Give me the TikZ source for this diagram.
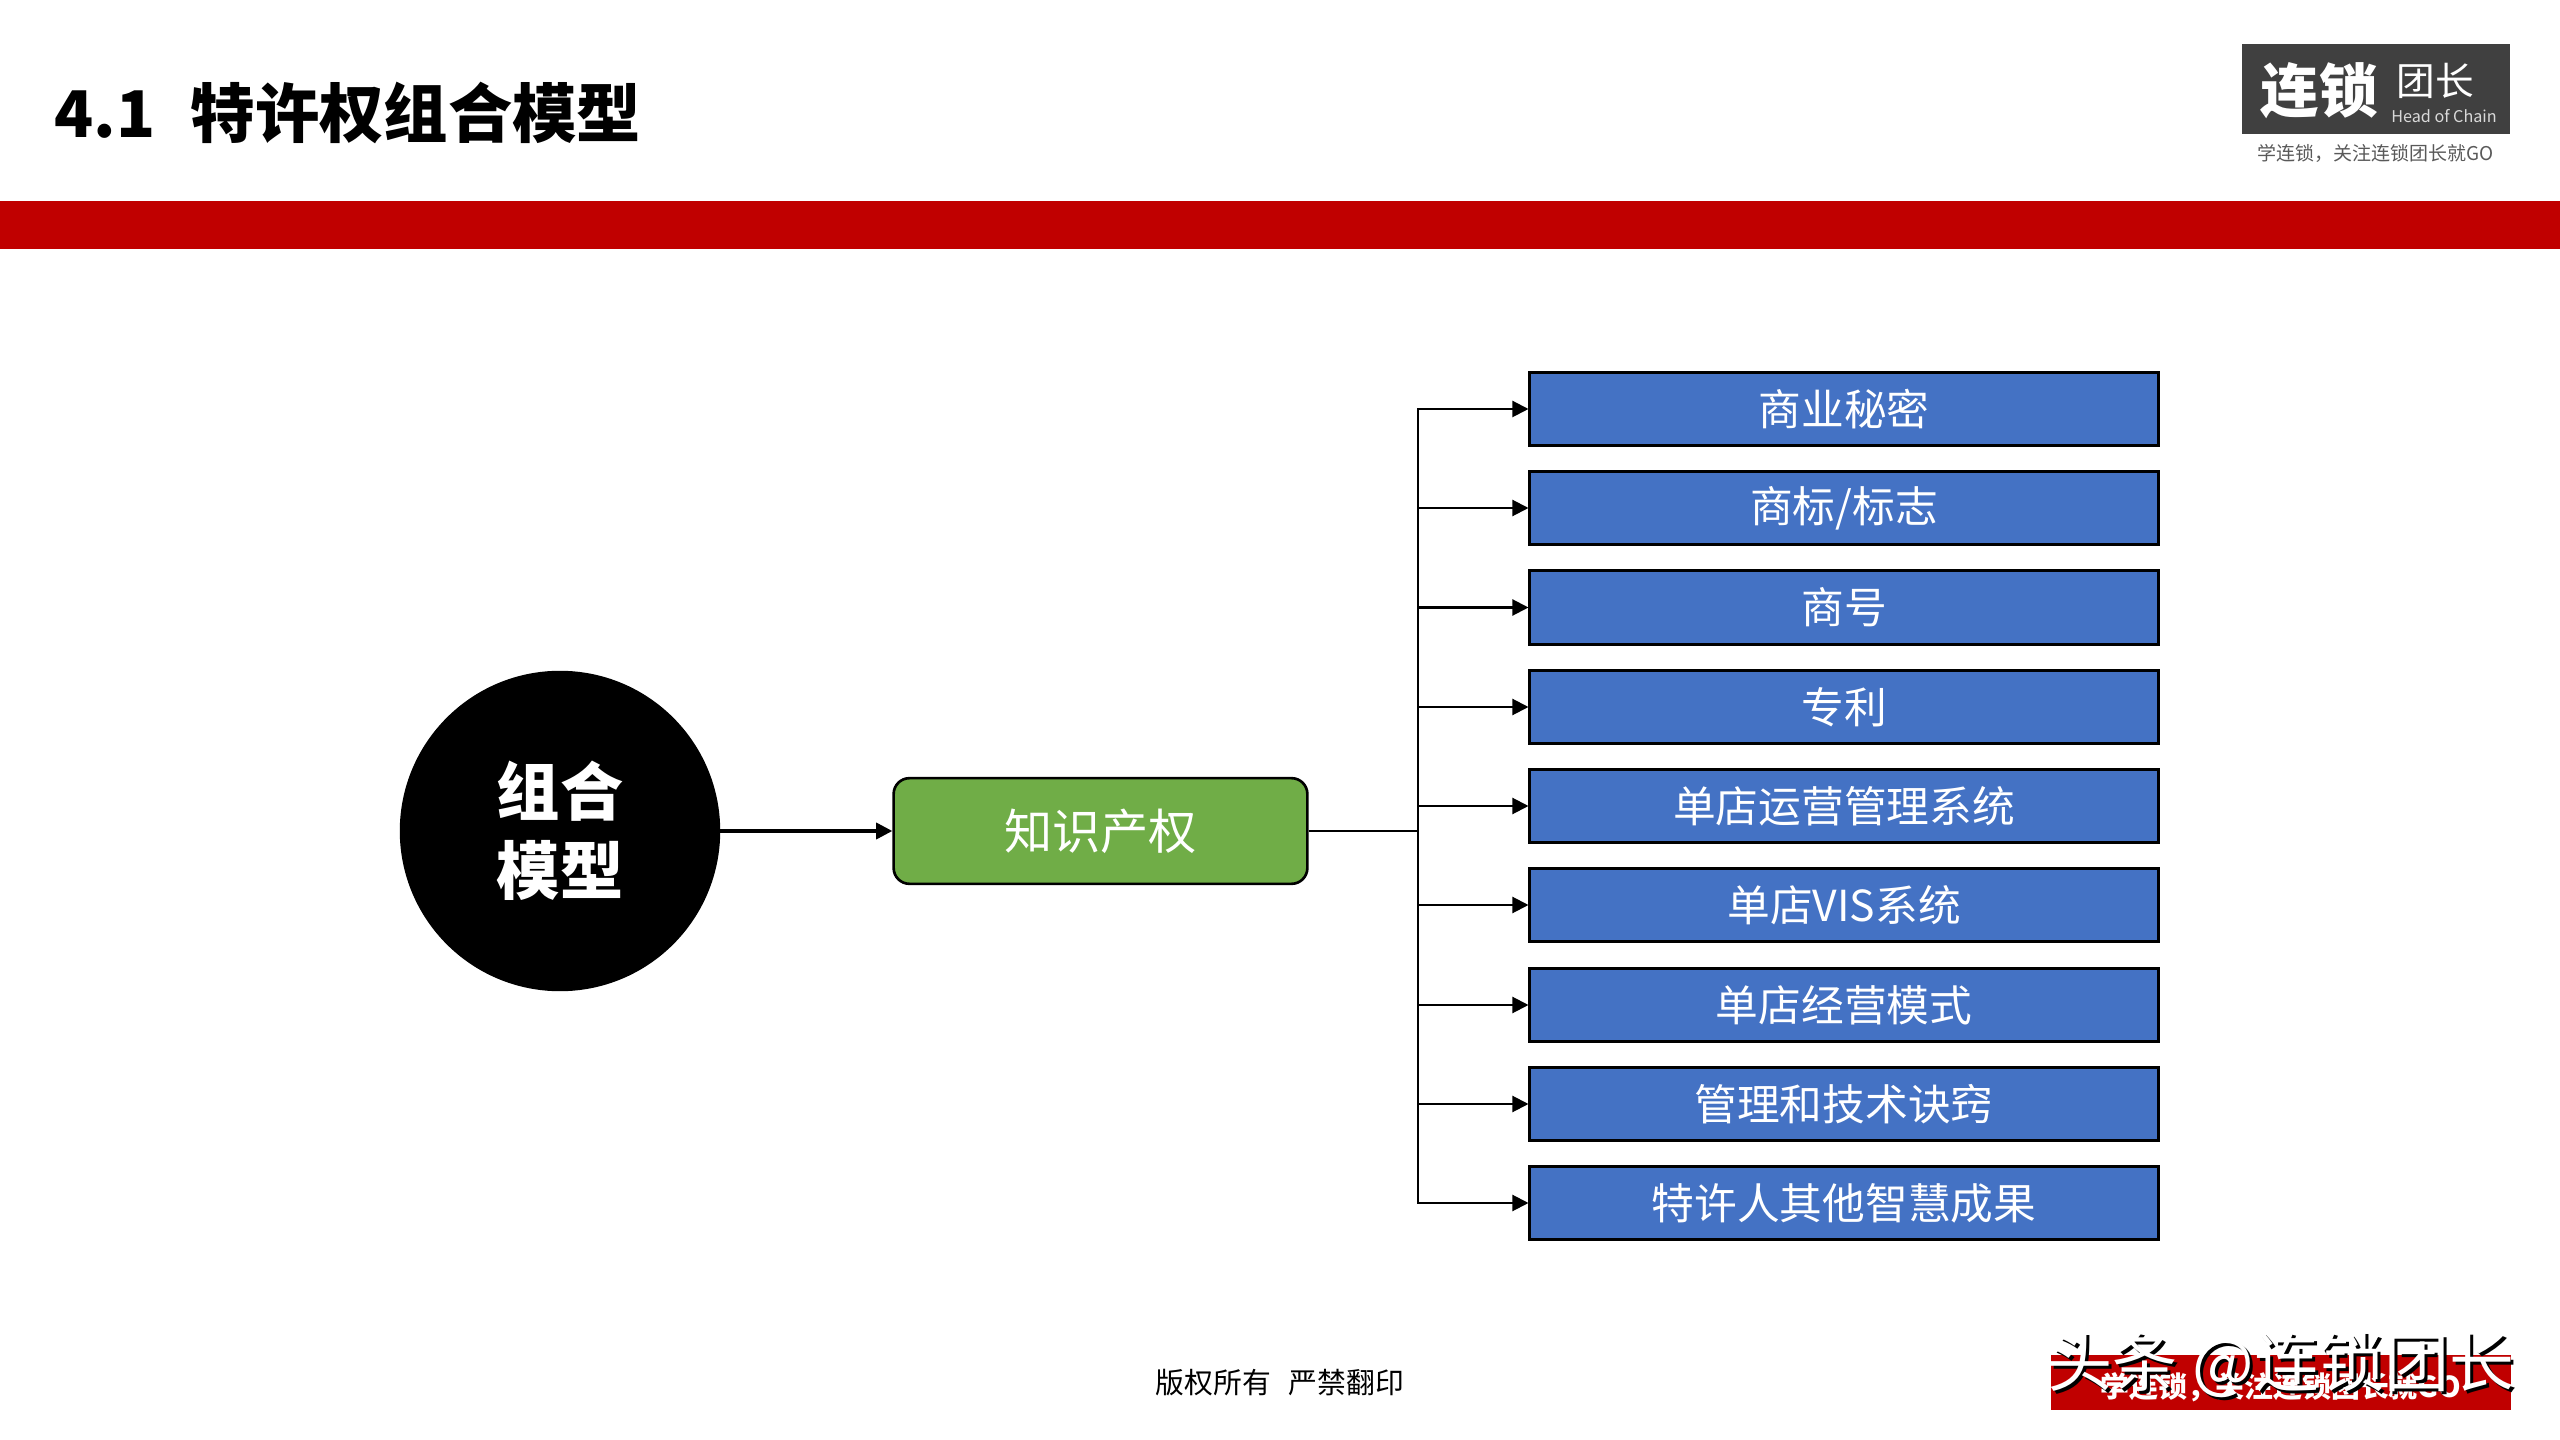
\documentclass[tikz,border=0pt]{standalone}
\usepackage{fontspec}
\setmainfont{Noto Sans CJK SC}
\usetikzlibrary{arrows.meta}
\definecolor{bandred}{HTML}{C00000}
\definecolor{boxblue}{HTML}{4472C4}
\definecolor{boxgreen}{HTML}{70AD47}
\definecolor{logogray}{HTML}{404040}
\tikzset{
  blockbox/.style={draw=black, line width=0.85pt, fill=boxblue, text=white, minimum width=630*0.2835pt, minimum height=74*0.2835pt, inner sep=0pt, font=\fontsize{12.15}{14}\selectfont},
  link/.style={draw=black, line width=0.6pt, -{Triangle[length=4.6pt,width=4.6pt]}},
}
\begin{document}
\begin{tikzpicture}[x=0.01cm, y=-0.01cm]
                \useasboundingbox (0,0) rectangle (2560,1440);

                % Header
                \fill[bandred] (0,201) rectangle (2560,249);
                \node at (54,113) (title) [anchor=west, inner sep=0pt, font=\fontsize{18.3}{22}\selectfont\bfseries] {4.1\hspace{10pt}特许权组合模型};

                % Logo
                \node at (2376,89) (logo) [fill=logogray, minimum width=268*0.2835pt, minimum height=90*0.2835pt, inner sep=0pt] {};
                \node at (2319,91) (logomain) [text=white, inner sep=0pt, font=\fontsize{16.6}{18}\selectfont\bfseries] {连锁};
                \node at (2435,81) (logoside) [text=white, inner sep=0pt, font=\fontsize{11}{12}\selectfont] {团长};
                \node at (2444,116) (logoen) [text=white!85!black, inner sep=0pt, font=\fontsize{4.6}{6}\selectfont\itshape] {Head of Chain};
                \node at (2376,153) (logosub) [text=black!65, inner sep=0pt, font=\fontsize{5.4}{6}\selectfont] {学连锁，关注连锁团长就GO};

                % Nodes
                \node at (560,831) (model) [draw=black, fill=black, circle, minimum size=320*0.2835pt, inner sep=0pt, align=center, text=white, font=\fontsize{18}{22.5}\selectfont\bfseries] {组合\\模型};
                \node at (1100.5,831) (ip) [draw=black, line width=0.75pt, fill=boxgreen, rounded corners=4.5pt, minimum width=415*0.2835pt, minimum height=106*0.2835pt, inner sep=0pt, text=white, font=\fontsize{13.7}{16}\selectfont] {知识产权};
                \coordinate (hub) at (1418,831);
                \node at (1844,409) (secret) [blockbox] {商业秘密};
                \node at (1844,508) (mark) [blockbox] {商标/标志};
                \node at (1844,607.5) (name) [blockbox] {商号};
                \node at (1844,707) (patent) [blockbox] {专利};
                \node at (1844,806) (system) [blockbox] {单店运营管理系统};
                \node at (1844,905) (vis) [blockbox] {单店VIS系统};
                \node at (1844,1005) (mode) [blockbox] {单店经营模式};
                \node at (1844,1104) (tech) [blockbox] {管理和技术诀窍};
                \node at (1844,1203) (other) [blockbox] {特许人其他智慧成果};

                % Arrows
                \draw[link, line width=0.9pt] (model) -- (ip);
                \draw[line width=0.6pt] (ip) -- (hub);
                \draw[link] (hub) |- (secret);
                \draw[link] (hub) |- (mark);
                \draw[link] (hub) |- (name);
                \draw[link] (hub) |- (patent);
                \draw[link] (hub) |- (system);
                \draw[link] (hub) |- (vis);
                \draw[link] (hub) |- (mode);
                \draw[link] (hub) |- (tech);
                \draw[link] (hub) |- (other);

                % Footer
                \node at (1280,1383) (rights) [inner sep=0pt, font=\fontsize{8.2}{10}\selectfont] {版权所有\hspace{5pt}严禁翻印};
                \node at (2281,1382.5) (footbar) [fill=bandred, minimum width=462*0.2835pt, minimum height=55*0.2835pt, inner sep=0pt] {};
                \node at (2281,1387) (footsub) [text=white, inner sep=0pt, font=\fontsize{8.2}{10}\selectfont\bfseries] {学连锁，关注连锁团长就GO};
                \node at (2284,1368) (stampback) [text=black, inner sep=0pt, font=\fontsize{18.5}{22}\selectfont] {头条 @连锁团长};
                \node at (2281,1365) (stamp) [text=white, inner sep=0pt, font=\fontsize{18.5}{22}\selectfont] {头条 @连锁团长};
            \end{tikzpicture}
\end{document}
